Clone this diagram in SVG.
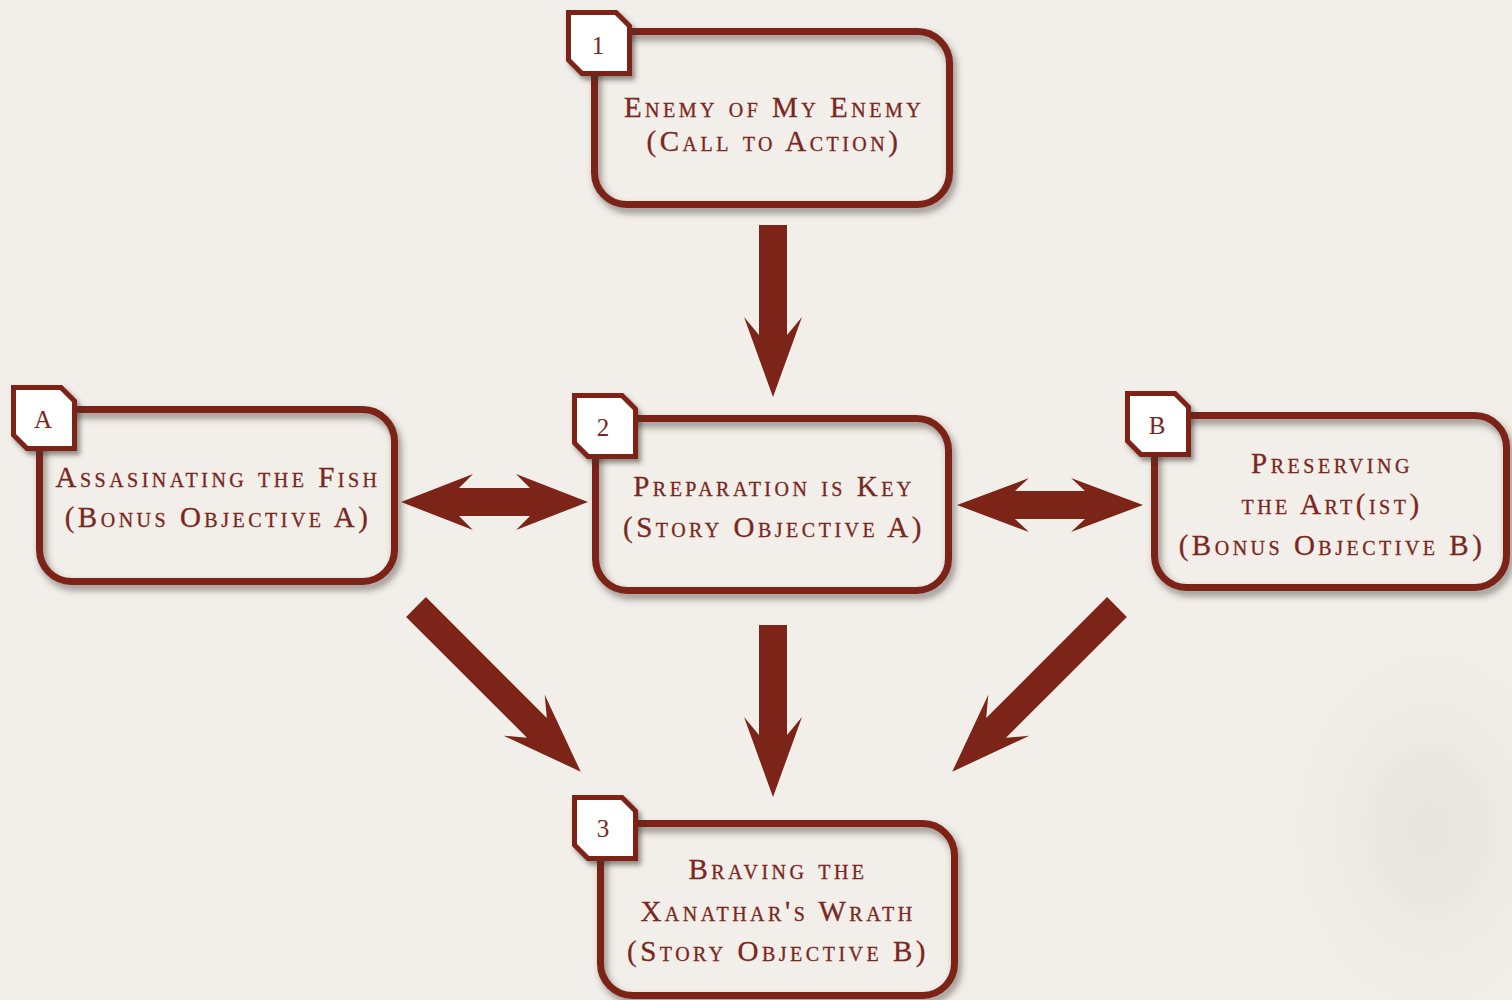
<svg xmlns="http://www.w3.org/2000/svg" xmlns:xlink="http://www.w3.org/1999/xlink" width="1512" height="1000" viewBox="0 0 1512 1000">
<style>
.box-fill{fill:#f2eee9;}
.box{fill:none;stroke:#7b2417;stroke-width:7;filter:url(#sh);}
.badge{fill:#ffffff;stroke:#7b2417;stroke-width:5;filter:url(#sh2);}
.arrow{fill:#7b2417;}
.t{font-family:"Liberation Serif","Times New Roman",serif;font-variant:small-caps;font-size:29px;letter-spacing:3.5px;fill:#7a2720;stroke:#7a2720;stroke-width:0.3;text-anchor:middle;}
.bt{font-family:"Liberation Serif","Times New Roman",serif;font-size:25px;fill:#7a2720;text-anchor:middle;}
</style>
<defs>
<filter id="sh" x="-10%" y="-10%" width="125%" height="130%">
<feDropShadow dx="3" dy="5" stdDeviation="3.5" flood-color="#3a3530" flood-opacity="0.55"/>
</filter>
<filter id="sh2" x="-20%" y="-20%" width="150%" height="150%">
<feDropShadow dx="3" dy="4" stdDeviation="2.5" flood-color="#3a3530" flood-opacity="0.55"/>
</filter>
<radialGradient id="blot" cx="0.5" cy="0.5" r="0.5">
<stop offset="0" stop-color="#d0ccc6" stop-opacity="0.3"/>
<stop offset="1" stop-color="#d0ccc6" stop-opacity="0"/>
</radialGradient>
<path id="badgeShape" d="M2.5,2.5 H50 L63.5,16 V63.5 H16 L2.5,50 Z"/>
</defs>
<rect width="1512" height="1000" fill="#f2efea"/>
<ellipse cx="1430" cy="830" rx="150" ry="200" fill="url(#blot)"/>

<g id="connectors">
<polygon class="arrow" transform="translate(773,225) rotate(90)" points="0,-14 110,-14 92,-29 172,0 92,29 110,14 0,14"/>
<polygon class="arrow" transform="translate(773,625) rotate(90)" points="0,-14 110,-14 92,-29 172,0 92,29 110,14 0,14"/>
<polygon class="arrow" transform="translate(416,607) rotate(45)" points="0,-14 171,-14 153,-29 233,0 153,29 171,14 0,14"/>
<polygon class="arrow" transform="translate(1117,607) rotate(135)" points="0,-14 171,-14 153,-29 233,0 153,29 171,14 0,14"/>
<polygon class="arrow" transform="translate(401,502)" points="0,0 72,-28 58,-14 129,-14 115,-28 187,0 115,28 129,14 58,14 72,28"/>
<polygon class="arrow" transform="translate(957,505)" points="0,0 72,-27 58,-14 128,-14 114,-27 186,0 114,27 128,14 58,14 72,27"/>
</g>

<g id="node1">
<rect class="box-fill" x="594.5" y="31.5" width="355" height="173" rx="32"/>
<rect class="box" x="594.5" y="31.5" width="355" height="173" rx="32"/>
<use xlink:href="#badgeShape" class="badge" x="566" y="10"/>
<text class="bt" x="598" y="54">1</text>
<text class="t" x="774" y="117">Enemy of My Enemy</text>
<text class="t" x="774" y="151">(Call to Action)</text>
</g>

<g id="node2">
<rect class="box-fill" x="595.5" y="418.5" width="353" height="172" rx="32"/>
<rect class="box" x="595.5" y="418.5" width="353" height="172" rx="32"/>
<use xlink:href="#badgeShape" class="badge" x="572" y="393"/>
<text class="bt" x="603" y="436">2</text>
<text class="t" x="774" y="496">Preparation is Key</text>
<text class="t" x="774" y="537">(Story Objective A)</text>
</g>

<g id="nodeA">
<rect class="box-fill" x="39.5" y="409.5" width="355" height="172" rx="32"/>
<rect class="box" x="39.5" y="409.5" width="355" height="172" rx="32"/>
<use xlink:href="#badgeShape" class="badge" x="11" y="385"/>
<text class="bt" x="43" y="428">A</text>
<text class="t" x="218" y="487">Assasinating the Fish</text>
<text class="t" x="218" y="527">(Bonus Objective A)</text>
</g>

<g id="nodeB">
<rect class="box-fill" x="1154.5" y="415.5" width="352" height="172" rx="32"/>
<rect class="box" x="1154.5" y="415.5" width="352" height="172" rx="32"/>
<use xlink:href="#badgeShape" class="badge" x="1125" y="391"/>
<text class="bt" x="1157" y="434">B</text>
<text class="t" x="1332" y="473">Preserving</text>
<text class="t" x="1332" y="514">the Art(ist)</text>
<text class="t" x="1332" y="555">(Bonus Objective B)</text>
</g>

<g id="node3">
<rect class="box-fill" x="600.5" y="823.5" width="354" height="172" rx="32"/>
<rect class="box" x="600.5" y="823.5" width="354" height="172" rx="32"/>
<use xlink:href="#badgeShape" class="badge" x="572" y="795"/>
<text class="bt" x="603" y="837">3</text>
<text class="t" x="778" y="879">Braving the</text>
<text class="t" x="778" y="921">Xanathar's Wrath</text>
<text class="t" x="778" y="961">(Story Objective B)</text>
</g>
</svg>
